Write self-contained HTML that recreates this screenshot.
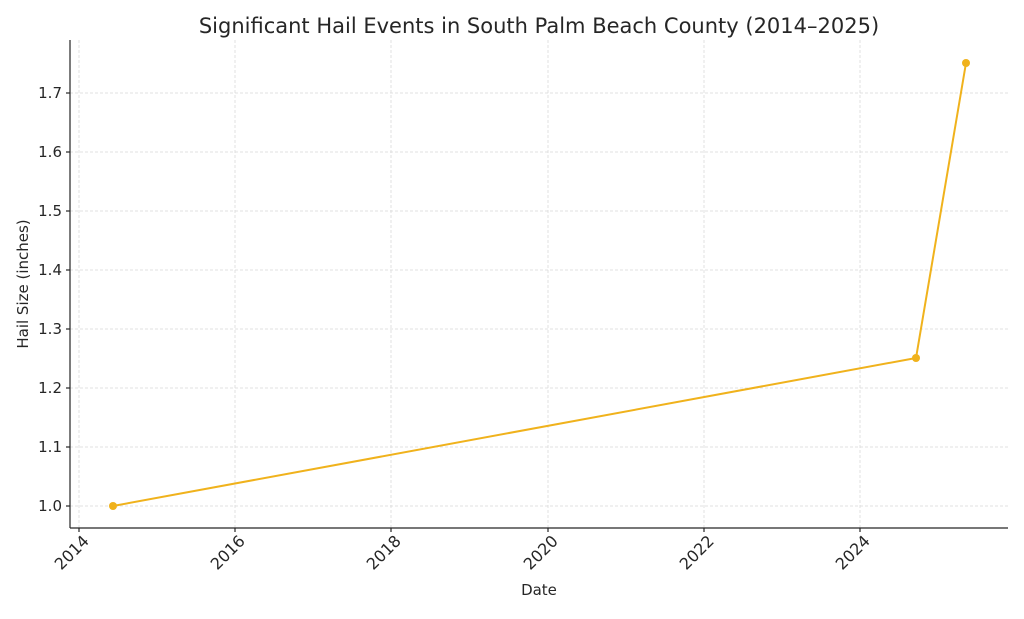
<!DOCTYPE html>
<html><head><meta charset="utf-8"><style>
body{margin:0;background:#fff}
svg text{font-family:"DejaVu Sans","Liberation Sans",sans-serif;fill:#262626}
</style></head><body>
<svg width="1024" height="614" viewBox="0 0 1024 614" xmlns="http://www.w3.org/2000/svg">
<rect width="1024" height="614" fill="#fff"/>
<g stroke="#d9d9d9" stroke-width="0.8" stroke-dasharray="3,2">
<line x1="79" y1="40" x2="79" y2="528"/><line x1="235" y1="40" x2="235" y2="528"/><line x1="391" y1="40" x2="391" y2="528"/><line x1="548" y1="40" x2="548" y2="528"/><line x1="704" y1="40" x2="704" y2="528"/><line x1="860" y1="40" x2="860" y2="528"/>
<line x1="70" y1="506" x2="1008" y2="506"/><line x1="70" y1="447" x2="1008" y2="447"/><line x1="70" y1="388" x2="1008" y2="388"/><line x1="70" y1="329" x2="1008" y2="329"/><line x1="70" y1="270" x2="1008" y2="270"/><line x1="70" y1="211" x2="1008" y2="211"/><line x1="70" y1="152" x2="1008" y2="152"/><line x1="70" y1="93" x2="1008" y2="93"/>
</g>
<g stroke="#262626" stroke-width="1.2">
<line x1="70" y1="40" x2="70" y2="528"/><line x1="70" y1="528" x2="1008" y2="528"/>
<line x1="79" y1="528" x2="79" y2="532"/><line x1="235" y1="528" x2="235" y2="532"/><line x1="391" y1="528" x2="391" y2="532"/><line x1="548" y1="528" x2="548" y2="532"/><line x1="704" y1="528" x2="704" y2="532"/><line x1="860" y1="528" x2="860" y2="532"/>
<line x1="66" y1="506" x2="70" y2="506"/><line x1="66" y1="447" x2="70" y2="447"/><line x1="66" y1="388" x2="70" y2="388"/><line x1="66" y1="329" x2="70" y2="329"/><line x1="66" y1="270" x2="70" y2="270"/><line x1="66" y1="211" x2="70" y2="211"/><line x1="66" y1="152" x2="70" y2="152"/><line x1="66" y1="93" x2="70" y2="93"/>
</g>
<g font-size="15" text-anchor="end">
<text x="62" y="511">1.0</text><text x="62" y="452">1.1</text><text x="62" y="393">1.2</text><text x="62" y="334">1.3</text><text x="62" y="275">1.4</text><text x="62" y="216">1.5</text><text x="62" y="157">1.6</text><text x="62" y="98">1.7</text>
</g>
<g font-size="16" text-anchor="end">
<text transform="translate(90,542) rotate(-45)">2014</text>
<text transform="translate(246,542) rotate(-45)">2016</text>
<text transform="translate(402,542) rotate(-45)">2018</text>
<text transform="translate(559,542) rotate(-45)">2020</text>
<text transform="translate(715,542) rotate(-45)">2022</text>
<text transform="translate(871,542) rotate(-45)">2024</text>
</g>
<text x="539" y="595" font-size="15" text-anchor="middle">Date</text>
<text transform="translate(28,284) rotate(-90)" font-size="15" text-anchor="middle">Hail Size (inches)</text>
<text x="539" y="33" font-size="21" text-anchor="middle">Significant Hail Events in South Palm Beach County (2014–2025)</text>
<polyline points="113,506 916,358 966,63" fill="none" stroke="#f0b21c" stroke-width="2"/>
<g fill="#f0b21c"><circle cx="113" cy="506" r="4"/><circle cx="916" cy="358" r="4"/><circle cx="966" cy="63" r="4"/></g>
</svg>
</body></html>
